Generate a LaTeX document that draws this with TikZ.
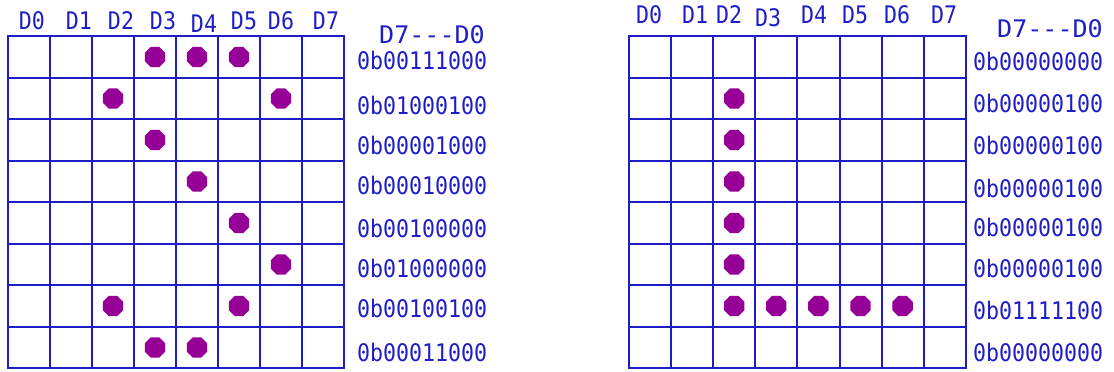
\documentclass[tikz,border=0pt]{standalone}
\usepackage{fontspec}
\usepackage{xcolor}
\usepackage{tikz}
\usetikzlibrary{shapes.geometric}
\newfontfamily\codefont{DejaVu Sans Mono}
\definecolor{gridblue}{RGB}{30,30,200}
\definecolor{ledpurple}{RGB}{150,0,150}

\begin{document}
\begin{tikzpicture}[
  x=1pt,y=-1pt,
  gridline/.style={draw=gridblue,line width=2pt,line cap=rect},
  led/.style={regular polygon,regular polygon sides=8,fill=ledpurple,inner sep=0pt,minimum size=22pt},
  bit/.style={font=\codefont\fontsize{21.6}{24}\selectfont,text=gridblue,inner sep=0pt,yscale=1.12},
  code/.style={bit,anchor=west},
  head/.style={bit,xscale=1.16}
]
\path[use as bounding box,fill=white] (0,0) rectangle (1114,372);
% two 8x8 grids
\foreach \i in {0,...,8} {
  \draw[gridline] (8+42*\i,36) -- (8+42*\i,368);
  \draw[gridline] (8,36+41.5*\i) -- (344,36+41.5*\i);
  \draw[gridline] (629+42.1*\i,36) -- (629+42.1*\i,368);
  \draw[gridline] (629,36+41.5*\i) -- (966,36+41.5*\i);
}
% column labels
\foreach \i/\x/\y in {0/32/21,1/79/21,2/121/21,3/163/21,4/204/24,5/244/21,6/281/21,7/326/21}
  \node[bit] (lcol\i) at (\x,\y) {D\i};
\foreach \i/\x/\y in {0/649/15,1/695/15,2/729/15,3/768/18,4/814/15,5/855/15,6/897/15,7/944/15}
  \node[bit] (rcol\i) at (\x,\y) {D\i};
% lit pixels
\foreach \r/\c in {0/3,0/4,0/5,1/2,1/6,2/3,3/4,4/5,5/6,6/2,6/5,7/3,7/4}
  \node[led] (lled\r\c) at (29+42*\c,57+41.5*\r) {};
\foreach \r/\c in {1/2,2/2,3/2,4/2,5/2,6/2,6/3,6/4,6/5,6/6}
  \node[led] (rled\r\c) at (650+42.1*\c,57+41.5*\r) {};
% row codes
\node[head] (lhead) at (432,35) {D7---D0};
\node[head] (rhead) at (1050,29) {D7---D0};
\foreach \r/\y/\v in {0/60/00111000,1/105/01000100,2/145/00001000,3/185/00010000,4/228/00100000,5/268/01000000,6/308/00100100,7/352/00011000}
  \node[code] (lcode\r) at (357,\y) {0b\v};
\foreach \r/\y/\v in {0/61/00000000,1/103/00000100,2/145/00000100,3/188/00000100,4/227/00000100,5/268/00000100,6/310/01111100,7/352/00000000}
  \node[code] (rcode\r) at (973,\y) {0b\v};
\end{tikzpicture}
\end{document}
